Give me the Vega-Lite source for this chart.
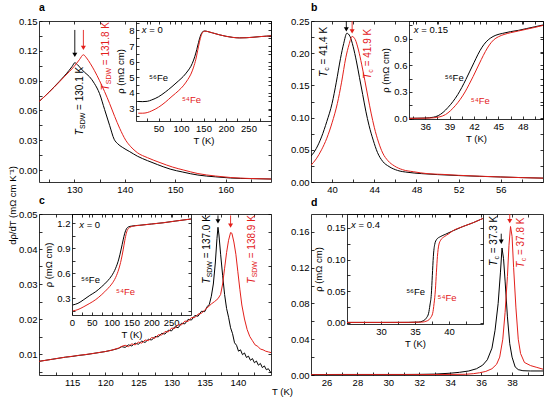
{
"$schema": "https://vega.github.io/schema/vega-lite/v6.json",
"background": "white",
"padding": {"left": 7, "top": 2, "right": 5, "bottom": 3},
"columns": 2,
"spacing": {"row": 32, "column": 40},
"bounds": "flush",
"config": {
  "font": "Liberation Sans",
  "view": {"stroke": null},
  "axis": {"grid": false, "domainColor": "black", "tickColor": "black", "labelColor": "black", "titleColor": "black", "labelFont": "Liberation Sans", "titleFont": "Liberation Sans", "labelFontSize": 9.5, "titleFontSize": 9.5, "titleFontWeight": "normal", "tickSize": -3, "labelPadding": 5, "domainWidth": 0.8, "tickWidth": 0.8, "labelFlush": false, "labelOverlap": false, "minExtent": 0, "titlePadding": 3},
  "text": {"font": "Liberation Sans"},
  "title": {"font": "Liberation Sans", "color": "black"}
},
"datasets": {
  "aMain": [
    {"T":123,"v":0.069,"iso":"56"},{"T":124,"v":0.0735,"iso":"56"},{"T":125,"v":0.0785,"iso":"56"},{"T":126,"v":0.0837,"iso":"56"},{"T":127,"v":0.089,"iso":"56"},{"T":128,"v":0.0945,"iso":"56"},{"T":129,"v":0.1005,"iso":"56"},{"T":129.6,"v":0.1045,"iso":"56"},{"T":130.1,"v":0.108,"iso":"56"},{"T":130.6,"v":0.1062,"iso":"56"},{"T":131.2,"v":0.1028,"iso":"56"},{"T":132,"v":0.0985,"iso":"56"},{"T":133,"v":0.094,"iso":"56"},{"T":134,"v":0.087,"iso":"56"},{"T":135,"v":0.077,"iso":"56"},{"T":136,"v":0.061,"iso":"56"},{"T":137,"v":0.045,"iso":"56"},{"T":137.9,"v":0.031,"iso":"56"},{"T":138.6,"v":0.0265,"iso":"56"},{"T":139.5,"v":0.023,"iso":"56"},{"T":141,"v":0.0185,"iso":"56"},{"T":142.5,"v":0.014,"iso":"56"},{"T":144.5,"v":0.0095,"iso":"56"},{"T":146.5,"v":0.0055,"iso":"56"},{"T":149,"v":0.001,"iso":"56"},{"T":151.5,"v":-0.002,"iso":"56"},{"T":154.5,"v":-0.005,"iso":"56"},{"T":158,"v":-0.0068,"iso":"56"},{"T":161,"v":-0.008,"iso":"56"},{"T":165,"v":-0.0086,"iso":"56"},{"T":169,"v":-0.009,"iso":"56"},
    {"T":123,"v":0.069,"iso":"54"},{"T":124,"v":0.0735,"iso":"54"},{"T":125,"v":0.0783,"iso":"54"},{"T":126,"v":0.0833,"iso":"54"},{"T":127,"v":0.0885,"iso":"54"},{"T":128,"v":0.0938,"iso":"54"},{"T":129,"v":0.099,"iso":"54"},{"T":130,"v":0.1045,"iso":"54"},{"T":131,"v":0.111,"iso":"54"},{"T":131.8,"v":0.116,"iso":"54"},{"T":132.4,"v":0.113,"iso":"54"},{"T":133.2,"v":0.107,"iso":"54"},{"T":134,"v":0.1,"iso":"54"},{"T":135,"v":0.09,"iso":"54"},{"T":136,"v":0.079,"iso":"54"},{"T":137,"v":0.067,"iso":"54"},{"T":138,"v":0.054,"iso":"54"},{"T":139,"v":0.042,"iso":"54"},{"T":140.2,"v":0.03,"iso":"54"},{"T":141.2,"v":0.0235,"iso":"54"},{"T":142.5,"v":0.0175,"iso":"54"},{"T":144.5,"v":0.0125,"iso":"54"},{"T":147,"v":0.0075,"iso":"54"},{"T":149.5,"v":0.003,"iso":"54"},{"T":151.7,"v":0,"iso":"54"},{"T":154.5,"v":-0.0035,"iso":"54"},{"T":158,"v":-0.006,"iso":"54"},{"T":161,"v":-0.0075,"iso":"54"},{"T":165,"v":-0.0085,"iso":"54"},{"T":169,"v":-0.009,"iso":"54"}
  ],
  "aIns": [
    {"T":5,"r":3.45,"iso":"56"},{"T":15,"r":3.44,"iso":"56"},{"T":25,"r":3.46,"iso":"56"},{"T":35,"r":3.55,"iso":"56"},{"T":50,"r":3.75,"iso":"56"},{"T":65,"r":4.05,"iso":"56"},{"T":80,"r":4.4,"iso":"56"},{"T":95,"r":4.78,"iso":"56"},{"T":105,"r":5.05,"iso":"56"},{"T":115,"r":5.4,"iso":"56"},{"T":122,"r":5.7,"iso":"56"},{"T":128,"r":6.1,"iso":"56"},{"T":133,"r":6.55,"iso":"56"},{"T":137,"r":7.0,"iso":"56"},{"T":141,"r":7.45,"iso":"56"},{"T":145,"r":7.78,"iso":"56"},{"T":149,"r":7.93,"iso":"56"},{"T":153,"r":7.96,"iso":"56"},{"T":160,"r":7.92,"iso":"56"},{"T":170,"r":7.84,"iso":"56"},{"T":185,"r":7.72,"iso":"56"},{"T":200,"r":7.62,"iso":"56"},{"T":215,"r":7.55,"iso":"56"},{"T":230,"r":7.52,"iso":"56"},{"T":245,"r":7.53,"iso":"56"},{"T":260,"r":7.56,"iso":"56"},{"T":275,"r":7.6,"iso":"56"},{"T":290,"r":7.63,"iso":"56"},{"T":300,"r":7.65,"iso":"56"},
    {"T":5,"r":2.7,"iso":"54"},{"T":15,"r":2.7,"iso":"54"},{"T":25,"r":2.74,"iso":"54"},{"T":35,"r":2.85,"iso":"54"},{"T":50,"r":3.08,"iso":"54"},{"T":65,"r":3.4,"iso":"54"},{"T":80,"r":3.78,"iso":"54"},{"T":95,"r":4.15,"iso":"54"},{"T":105,"r":4.45,"iso":"54"},{"T":115,"r":4.85,"iso":"54"},{"T":122,"r":5.2,"iso":"54"},{"T":128,"r":5.65,"iso":"54"},{"T":133,"r":6.15,"iso":"54"},{"T":137,"r":6.7,"iso":"54"},{"T":141,"r":7.25,"iso":"54"},{"T":145,"r":7.68,"iso":"54"},{"T":149,"r":7.9,"iso":"54"},{"T":153,"r":7.95,"iso":"54"},{"T":160,"r":7.92,"iso":"54"},{"T":170,"r":7.84,"iso":"54"},{"T":185,"r":7.72,"iso":"54"},{"T":200,"r":7.62,"iso":"54"},{"T":215,"r":7.55,"iso":"54"},{"T":230,"r":7.52,"iso":"54"},{"T":245,"r":7.53,"iso":"54"},{"T":260,"r":7.56,"iso":"54"},{"T":275,"r":7.6,"iso":"54"},{"T":290,"r":7.63,"iso":"54"},{"T":300,"r":7.65,"iso":"54"}
  ],
  "aArrow": [{"T":130.1,"y1":0.141,"y2":0.116,"iso":"56"},{"T":131.8,"y1":0.141,"y2":0.123,"iso":"54"}],
  "aText": [{"T":131.1,"v":0.035,"iso":"56","sub":"SDW","val":"= 130.1 K"},{"T":136.3,"v":0.08,"iso":"54","sub":"SDW","val":"= 131.8 K"}],
  "aLab": [{"T":29,"r":4.95,"iso":"56","txt":"⁵⁶Fe"},{"T":102,"r":3.54,"iso":"54","txt":"⁵⁴Fe"}],
  "aX": [{"T":13,"r":8.02,"txt":"= 0"}],
  "bMain": [
    {"T":38,"v":0.04,"iso":"56"},{"T":38.5,"v":0.052,"iso":"56"},{"T":39,"v":0.07,"iso":"56"},{"T":39.5,"v":0.094,"iso":"56"},{"T":40,"v":0.122,"iso":"56"},{"T":40.4,"v":0.155,"iso":"56"},{"T":40.8,"v":0.192,"iso":"56"},{"T":41.1,"v":0.215,"iso":"56"},{"T":41.4,"v":0.231,"iso":"56"},{"T":41.7,"v":0.226,"iso":"56"},{"T":42,"v":0.21,"iso":"56"},{"T":42.3,"v":0.188,"iso":"56"},{"T":42.6,"v":0.162,"iso":"56"},{"T":42.9,"v":0.136,"iso":"56"},{"T":43.2,"v":0.11,"iso":"56"},{"T":43.5,"v":0.088,"iso":"56"},{"T":43.9,"v":0.065,"iso":"56"},{"T":44.3,"v":0.046,"iso":"56"},{"T":44.8,"v":0.032,"iso":"56"},{"T":45.4,"v":0.024,"iso":"56"},{"T":46.2,"v":0.018,"iso":"56"},{"T":47.2,"v":0.015,"iso":"56"},{"T":48.5,"v":0.013,"iso":"56"},{"T":50,"v":0.0115,"iso":"56"},{"T":52,"v":0.01,"iso":"56"},{"T":54,"v":0.0088,"iso":"56"},{"T":56,"v":0.0078,"iso":"56"},{"T":58,"v":0.0068,"iso":"56"},{"T":60,"v":0.006,"iso":"56"},
    {"T":38,"v":0.026,"iso":"54"},{"T":38.5,"v":0.036,"iso":"54"},{"T":39,"v":0.05,"iso":"54"},{"T":39.5,"v":0.068,"iso":"54"},{"T":40,"v":0.092,"iso":"54"},{"T":40.5,"v":0.122,"iso":"54"},{"T":40.9,"v":0.155,"iso":"54"},{"T":41.3,"v":0.193,"iso":"54"},{"T":41.6,"v":0.213,"iso":"54"},{"T":41.9,"v":0.226,"iso":"54"},{"T":42.2,"v":0.221,"iso":"54"},{"T":42.5,"v":0.205,"iso":"54"},{"T":42.8,"v":0.183,"iso":"54"},{"T":43.1,"v":0.158,"iso":"54"},{"T":43.4,"v":0.132,"iso":"54"},{"T":43.7,"v":0.107,"iso":"54"},{"T":44,"v":0.085,"iso":"54"},{"T":44.4,"v":0.062,"iso":"54"},{"T":44.8,"v":0.045,"iso":"54"},{"T":45.3,"v":0.033,"iso":"54"},{"T":45.9,"v":0.025,"iso":"54"},{"T":46.7,"v":0.019,"iso":"54"},{"T":47.7,"v":0.016,"iso":"54"},{"T":49,"v":0.013,"iso":"54"},{"T":50.5,"v":0.0118,"iso":"54"},{"T":52,"v":0.0104,"iso":"54"},{"T":54,"v":0.009,"iso":"54"},{"T":56,"v":0.0078,"iso":"54"},{"T":58,"v":0.0068,"iso":"54"},{"T":60,"v":0.006,"iso":"54"}
  ],
  "bIns": [
    {"T":34,"r":0.003,"iso":"56"},{"T":35,"r":0.004,"iso":"56"},{"T":36,"r":0.006,"iso":"56"},{"T":37,"r":0.015,"iso":"56"},{"T":37.6,"r":0.033,"iso":"56"},{"T":38.2,"r":0.07,"iso":"56"},{"T":38.8,"r":0.125,"iso":"56"},{"T":39.4,"r":0.19,"iso":"56"},{"T":40,"r":0.27,"iso":"56"},{"T":40.5,"r":0.35,"iso":"56"},{"T":41,"r":0.44,"iso":"56"},{"T":41.5,"r":0.535,"iso":"56"},{"T":42,"r":0.63,"iso":"56"},{"T":42.5,"r":0.725,"iso":"56"},{"T":43,"r":0.805,"iso":"56"},{"T":43.5,"r":0.865,"iso":"56"},{"T":44,"r":0.905,"iso":"56"},{"T":44.7,"r":0.94,"iso":"56"},{"T":45.5,"r":0.96,"iso":"56"},{"T":46.5,"r":0.98,"iso":"56"},{"T":47.5,"r":0.995,"iso":"56"},{"T":48.5,"r":1.015,"iso":"56"},{"T":49.5,"r":1.035,"iso":"56"},{"T":50.5,"r":1.055,"iso":"56"},
    {"T":34,"r":0.002,"iso":"54"},{"T":35,"r":0.003,"iso":"54"},{"T":36,"r":0.004,"iso":"54"},{"T":37,"r":0.008,"iso":"54"},{"T":37.8,"r":0.02,"iso":"54"},{"T":38.5,"r":0.045,"iso":"54"},{"T":39.1,"r":0.088,"iso":"54"},{"T":39.7,"r":0.145,"iso":"54"},{"T":40.3,"r":0.215,"iso":"54"},{"T":40.9,"r":0.3,"iso":"54"},{"T":41.4,"r":0.385,"iso":"54"},{"T":41.9,"r":0.475,"iso":"54"},{"T":42.4,"r":0.57,"iso":"54"},{"T":42.9,"r":0.665,"iso":"54"},{"T":43.4,"r":0.755,"iso":"54"},{"T":43.9,"r":0.83,"iso":"54"},{"T":44.4,"r":0.885,"iso":"54"},{"T":45,"r":0.922,"iso":"54"},{"T":45.7,"r":0.948,"iso":"54"},{"T":46.5,"r":0.968,"iso":"54"},{"T":47.5,"r":0.988,"iso":"54"},{"T":48.5,"r":1.008,"iso":"54"},{"T":49.5,"r":1.028,"iso":"54"},{"T":50.5,"r":1.05,"iso":"54"}
  ],
  "bArrow": [{"T":41.35,"y1":0.25,"y2":0.237,"iso":"56"},{"T":41.9,"y1":0.25,"y2":0.234,"iso":"54"}],
  "bText": [{"T":39.2,"v":0.163,"iso":"56","sub":"c","val":"= 41.4 K"},{"T":43.45,"v":0.16,"iso":"54","sub":"c","val":"= 41.9 K"}],
  "bLab": [{"T":38.4,"r":0.46,"iso":"56","txt":"⁵⁶Fe"},{"T":41.6,"r":0.2,"iso":"54","txt":"⁵⁴Fe"}],
  "bX": [{"T":34.6,"r":1.0,"txt":"= 0.15"}],
  "cMain": [
    {"T":110,"v":0.0079,"iso":"56"},{"T":111,"v":0.0082,"iso":"56"},{"T":112,"v":0.0085,"iso":"56"},{"T":113,"v":0.0088,"iso":"56"},{"T":114,"v":0.0091,"iso":"56"},{"T":115,"v":0.0093,"iso":"56"},{"T":116,"v":0.0096,"iso":"56"},{"T":117,"v":0.0098,"iso":"56"},{"T":118,"v":0.0101,"iso":"56"},{"T":119,"v":0.0104,"iso":"56"},{"T":120,"v":0.0107,"iso":"56"},{"T":121,"v":0.0111,"iso":"56"},{"T":122,"v":0.0116,"iso":"56"},{"T":122.5,"v":0.0121,"iso":"56"},{"T":123,"v":0.0119,"iso":"56"},{"T":123.5,"v":0.0126,"iso":"56"},{"T":124,"v":0.0123,"iso":"56"},{"T":124.5,"v":0.0131,"iso":"56"},{"T":125,"v":0.0128,"iso":"56"},{"T":125.5,"v":0.0137,"iso":"56"},{"T":126,"v":0.0133,"iso":"56"},{"T":126.5,"v":0.0142,"iso":"56"},{"T":127,"v":0.014,"iso":"56"},{"T":127.5,"v":0.015,"iso":"56"},{"T":128,"v":0.0149,"iso":"56"},{"T":128.5,"v":0.0159,"iso":"56"},{"T":129,"v":0.0157,"iso":"56"},{"T":129.5,"v":0.0168,"iso":"56"},{"T":130,"v":0.0166,"iso":"56"},{"T":130.5,"v":0.0178,"iso":"56"},{"T":131,"v":0.0175,"iso":"56"},{"T":131.5,"v":0.0188,"iso":"56"},{"T":132,"v":0.0186,"iso":"56"},{"T":132.5,"v":0.0199,"iso":"56"},{"T":133,"v":0.0197,"iso":"56"},{"T":133.5,"v":0.021,"iso":"56"},{"T":134,"v":0.0208,"iso":"56"},{"T":134.5,"v":0.0222,"iso":"56"},{"T":135,"v":0.0221,"iso":"56"},{"T":135.4,"v":0.0236,"iso":"56"},{"T":135.7,"v":0.0242,"iso":"56"},{"T":136,"v":0.0265,"iso":"56"},{"T":136.3,"v":0.03,"iso":"56"},{"T":136.6,"v":0.036,"iso":"56"},{"T":136.85,"v":0.043,"iso":"56"},{"T":137,"v":0.0462,"iso":"56"},{"T":137.15,"v":0.044,"iso":"56"},{"T":137.4,"v":0.0385,"iso":"56"},{"T":137.7,"v":0.0325,"iso":"56"},{"T":138,"v":0.027,"iso":"56"},{"T":138.3,"v":0.023,"iso":"56"},{"T":138.6,"v":0.0205,"iso":"56"},{"T":138.9,"v":0.0175,"iso":"56"},{"T":139.2,"v":0.0158,"iso":"56"},{"T":139.5,"v":0.0132,"iso":"56"},{"T":139.8,"v":0.0125,"iso":"56"},{"T":140.1,"v":0.0108,"iso":"56"},{"T":140.4,"v":0.0112,"iso":"56"},{"T":140.7,"v":0.0098,"iso":"56"},{"T":141,"v":0.0103,"iso":"56"},{"T":141.3,"v":0.009,"iso":"56"},{"T":141.6,"v":0.0094,"iso":"56"},{"T":141.9,"v":0.0082,"iso":"56"},{"T":142.2,"v":0.0087,"iso":"56"},{"T":142.5,"v":0.0075,"iso":"56"},{"T":142.8,"v":0.008,"iso":"56"},{"T":143.1,"v":0.0068,"iso":"56"},{"T":143.4,"v":0.0073,"iso":"56"},{"T":143.7,"v":0.0061,"iso":"56"},{"T":144,"v":0.0066,"iso":"56"},{"T":144.3,"v":0.0055,"iso":"56"},{"T":144.6,"v":0.0058,"iso":"56"},{"T":145,"v":0.0046,"iso":"56"},
    {"T":110,"v":0.0079,"iso":"54"},{"T":112,"v":0.0085,"iso":"54"},{"T":114,"v":0.0091,"iso":"54"},{"T":116,"v":0.0096,"iso":"54"},{"T":118,"v":0.0101,"iso":"54"},{"T":120,"v":0.0107,"iso":"54"},{"T":121,"v":0.0111,"iso":"54"},{"T":122,"v":0.0117,"iso":"54"},{"T":122.5,"v":0.0122,"iso":"54"},{"T":123,"v":0.0125,"iso":"54"},{"T":123.5,"v":0.0121,"iso":"54"},{"T":124,"v":0.0129,"iso":"54"},{"T":124.5,"v":0.0126,"iso":"54"},{"T":125,"v":0.0134,"iso":"54"},{"T":125.5,"v":0.0131,"iso":"54"},{"T":126,"v":0.014,"iso":"54"},{"T":126.5,"v":0.0138,"iso":"54"},{"T":127,"v":0.0147,"iso":"54"},{"T":127.5,"v":0.0145,"iso":"54"},{"T":128,"v":0.0155,"iso":"54"},{"T":128.5,"v":0.0154,"iso":"54"},{"T":129,"v":0.0164,"iso":"54"},{"T":129.5,"v":0.0163,"iso":"54"},{"T":130,"v":0.0174,"iso":"54"},{"T":130.5,"v":0.0173,"iso":"54"},{"T":131,"v":0.0184,"iso":"54"},{"T":131.5,"v":0.0183,"iso":"54"},{"T":132,"v":0.0194,"iso":"54"},{"T":132.5,"v":0.0193,"iso":"54"},{"T":133,"v":0.0204,"iso":"54"},{"T":133.5,"v":0.0204,"iso":"54"},{"T":134,"v":0.0214,"iso":"54"},{"T":134.5,"v":0.0216,"iso":"54"},{"T":135,"v":0.0226,"iso":"54"},{"T":135.5,"v":0.0234,"iso":"54"},{"T":136,"v":0.0243,"iso":"54"},{"T":136.5,"v":0.025,"iso":"54"},{"T":137,"v":0.0258,"iso":"54"},{"T":137.4,"v":0.027,"iso":"54"},{"T":137.7,"v":0.03,"iso":"54"},{"T":138,"v":0.0345,"iso":"54"},{"T":138.3,"v":0.039,"iso":"54"},{"T":138.6,"v":0.0425,"iso":"54"},{"T":138.9,"v":0.0447,"iso":"54"},{"T":139.1,"v":0.0445,"iso":"54"},{"T":139.4,"v":0.042,"iso":"54"},{"T":139.7,"v":0.0385,"iso":"54"},{"T":140,"v":0.0335,"iso":"54"},{"T":140.3,"v":0.0285,"iso":"54"},{"T":140.6,"v":0.024,"iso":"54"},{"T":141,"v":0.02,"iso":"54"},{"T":141.4,"v":0.017,"iso":"54"},{"T":141.8,"v":0.015,"iso":"54"},{"T":142.2,"v":0.0138,"iso":"54"},{"T":142.6,"v":0.0126,"iso":"54"},{"T":143,"v":0.0122,"iso":"54"},{"T":143.4,"v":0.0114,"iso":"54"},{"T":143.8,"v":0.0112,"iso":"54"},{"T":144.2,"v":0.0108,"iso":"54"},{"T":144.6,"v":0.0106,"iso":"54"},{"T":145,"v":0.0104,"iso":"54"}
  ],
  "cIns": [
    {"T":2,"r":0.22,"iso":"56"},{"T":15,"r":0.24,"iso":"56"},{"T":30,"r":0.285,"iso":"56"},{"T":45,"r":0.335,"iso":"56"},{"T":60,"r":0.38,"iso":"56"},{"T":75,"r":0.44,"iso":"56"},{"T":90,"r":0.51,"iso":"56"},{"T":100,"r":0.57,"iso":"56"},{"T":110,"r":0.66,"iso":"56"},{"T":118,"r":0.77,"iso":"56"},{"T":124,"r":0.89,"iso":"56"},{"T":129,"r":1.0,"iso":"56"},{"T":133,"r":1.08,"iso":"56"},{"T":137,"r":1.13,"iso":"56"},{"T":142,"r":1.155,"iso":"56"},{"T":150,"r":1.165,"iso":"56"},{"T":170,"r":1.175,"iso":"56"},{"T":200,"r":1.19,"iso":"56"},{"T":230,"r":1.205,"iso":"56"},{"T":260,"r":1.225,"iso":"56"},{"T":300,"r":1.25,"iso":"56"},
    {"T":2,"r":0.148,"iso":"54"},{"T":15,"r":0.165,"iso":"54"},{"T":30,"r":0.2,"iso":"54"},{"T":45,"r":0.24,"iso":"54"},{"T":60,"r":0.285,"iso":"54"},{"T":75,"r":0.345,"iso":"54"},{"T":90,"r":0.415,"iso":"54"},{"T":100,"r":0.47,"iso":"54"},{"T":110,"r":0.55,"iso":"54"},{"T":118,"r":0.65,"iso":"54"},{"T":124,"r":0.76,"iso":"54"},{"T":129,"r":0.88,"iso":"54"},{"T":133,"r":0.99,"iso":"54"},{"T":137,"r":1.08,"iso":"54"},{"T":141,"r":1.13,"iso":"54"},{"T":146,"r":1.15,"iso":"54"},{"T":152,"r":1.162,"iso":"54"},{"T":170,"r":1.174,"iso":"54"},{"T":200,"r":1.19,"iso":"54"},{"T":230,"r":1.205,"iso":"54"},{"T":260,"r":1.225,"iso":"54"},{"T":300,"r":1.25,"iso":"54"}
  ],
  "cArrow": [{"T":137.0,"y1":0.0496,"y2":0.0479,"iso":"56"},{"T":138.9,"y1":0.0496,"y2":0.0467,"iso":"54"}],
  "cText": [{"T":135.4,"v":0.0301,"iso":"56","sub":"SDW","val":"= 137.0 K"},{"T":142.2,"v":0.0301,"iso":"54","sub":"SDW","val":"= 138.9 K"}],
  "cLab": [{"T":22.7,"r":0.52,"iso":"56","txt":"⁵⁶Fe"},{"T":111,"r":0.376,"iso":"54","txt":"⁵⁴Fe"}],
  "cX": [{"T":18,"r":1.18,"txt":"= 0"}],
  "dMain": [
    {"T":25,"v":0.0005,"iso":"56"},{"T":27,"v":0.0006,"iso":"56"},{"T":29,"v":0.0006,"iso":"56"},{"T":31,"v":0.0006,"iso":"56"},{"T":32,"v":0.0007,"iso":"56"},{"T":33,"v":0.001,"iso":"56"},{"T":34,"v":0.002,"iso":"56"},{"T":34.6,"v":0.003,"iso":"56"},{"T":35.2,"v":0.0045,"iso":"56"},{"T":35.7,"v":0.007,"iso":"56"},{"T":36.1,"v":0.011,"iso":"56"},{"T":36.4,"v":0.017,"iso":"56"},{"T":36.7,"v":0.03,"iso":"56"},{"T":36.9,"v":0.05,"iso":"56"},{"T":37.1,"v":0.08,"iso":"56"},{"T":37.25,"v":0.115,"iso":"56"},{"T":37.35,"v":0.142,"iso":"56"},{"T":37.45,"v":0.13,"iso":"56"},{"T":37.55,"v":0.105,"iso":"56"},{"T":37.7,"v":0.065,"iso":"56"},{"T":37.85,"v":0.035,"iso":"56"},{"T":38,"v":0.02,"iso":"56"},{"T":38.2,"v":0.009,"iso":"56"},{"T":38.4,"v":0.006,"iso":"56"},{"T":38.7,"v":0.0048,"iso":"56"},{"T":39.2,"v":0.0045,"iso":"56"},{"T":40,"v":0.0045,"iso":"56"},
    {"T":25,"v":0.0003,"iso":"54"},{"T":28,"v":0.0004,"iso":"54"},{"T":31,"v":0.0004,"iso":"54"},{"T":33,"v":0.0005,"iso":"54"},{"T":35,"v":0.0008,"iso":"54"},{"T":35.5,"v":0.0015,"iso":"54"},{"T":35.9,"v":0.0025,"iso":"54"},{"T":36.3,"v":0.004,"iso":"54"},{"T":36.7,"v":0.007,"iso":"54"},{"T":37,"v":0.012,"iso":"54"},{"T":37.2,"v":0.02,"iso":"54"},{"T":37.4,"v":0.04,"iso":"54"},{"T":37.55,"v":0.07,"iso":"54"},{"T":37.7,"v":0.11,"iso":"54"},{"T":37.8,"v":0.145,"iso":"54"},{"T":37.9,"v":0.166,"iso":"54"},{"T":38,"v":0.155,"iso":"54"},{"T":38.1,"v":0.12,"iso":"54"},{"T":38.25,"v":0.075,"iso":"54"},{"T":38.4,"v":0.04,"iso":"54"},{"T":38.55,"v":0.024,"iso":"54"},{"T":38.8,"v":0.014,"iso":"54"},{"T":39.2,"v":0.0105,"iso":"54"},{"T":39.6,"v":0.0085,"iso":"54"},{"T":40,"v":0.0065,"iso":"54"}
  ],
  "dIns": [
    {"T":25,"r":0.0005,"iso":"56"},{"T":30,"r":0.0005,"iso":"56"},{"T":34,"r":0.0006,"iso":"56"},{"T":35.5,"r":0.001,"iso":"56"},{"T":36.2,"r":0.003,"iso":"56"},{"T":36.7,"r":0.008,"iso":"56"},{"T":37,"r":0.015,"iso":"56"},{"T":37.2,"r":0.028,"iso":"56"},{"T":37.4,"r":0.045,"iso":"56"},{"T":37.55,"r":0.075,"iso":"56"},{"T":37.7,"r":0.105,"iso":"56"},{"T":37.9,"r":0.124,"iso":"56"},{"T":38.2,"r":0.132,"iso":"56"},{"T":38.7,"r":0.136,"iso":"56"},{"T":39.5,"r":0.14,"iso":"56"},{"T":40.5,"r":0.145,"iso":"56"},{"T":42,"r":0.152,"iso":"56"},{"T":43.5,"r":0.158,"iso":"56"},{"T":45,"r":0.165,"iso":"56"},
    {"T":25,"r":0.0005,"iso":"54"},{"T":30,"r":0.0005,"iso":"54"},{"T":34,"r":0.0006,"iso":"54"},{"T":36,"r":0.001,"iso":"54"},{"T":36.8,"r":0.003,"iso":"54"},{"T":37.3,"r":0.008,"iso":"54"},{"T":37.6,"r":0.015,"iso":"54"},{"T":37.8,"r":0.03,"iso":"54"},{"T":38,"r":0.052,"iso":"54"},{"T":38.15,"r":0.08,"iso":"54"},{"T":38.3,"r":0.105,"iso":"54"},{"T":38.5,"r":0.123,"iso":"54"},{"T":38.8,"r":0.131,"iso":"54"},{"T":39.3,"r":0.136,"iso":"54"},{"T":40,"r":0.141,"iso":"54"},{"T":40.5,"r":0.145,"iso":"54"},{"T":42,"r":0.152,"iso":"54"},{"T":43.5,"r":0.158,"iso":"54"},{"T":45,"r":0.165,"iso":"54"}
  ],
  "dArrow": [{"T":37.3,"y1":0.158,"y2":0.149,"iso":"56"},{"T":37.85,"y1":0.18,"y2":0.172,"iso":"54"}],
  "dText": [{"T":36.85,"v":0.122,"iso":"56","sub":"c","val":"= 37.3 K"},{"T":38.6,"v":0.12,"iso":"54","sub":"c","val":"= 37.8 K"}],
  "dLab": [{"T":33.7,"r":0.049,"iso":"56","txt":"⁵⁶Fe"},{"T":38.3,"r":0.0385,"iso":"54","txt":"⁵⁴Fe"}],
  "dX": [{"T":25.6,"r":0.1546,"txt":"= 0.4"}]
},
"concat": [
 {
  "width": 232, "height": 161,
  "title": {"text": "a", "anchor": "start", "frame": "group", "fontSize": 10.5, "fontWeight": "bold", "offset": 3},
  "layer": [
   {
    "encoding": {
      "x": {"field": "T", "type": "quantitative", "scale": {"domain": [123, 169], "nice": false, "zero": false}, "axis": null},
      "y": {"field": "v", "type": "quantitative", "scale": {"domain": [-0.012, 0.15], "nice": false, "zero": false}, "axis": null},
      "color": {"field": "iso", "type": "nominal", "scale": {"domain": ["56", "54"], "range": ["#000000", "#e3201b"]}, "legend": null}
    },
    "layer": [
      {"data": {"name": "aMain"}, "mark": {"type": "line", "strokeWidth": 1, "clip": true, "interpolate": "monotone"},
       "encoding": {
        "x": {"field": "T", "type": "quantitative", "scale": {"domain": [123, 169], "nice": false, "zero": false}, "axis": {"orient": "bottom", "values": [125,130,135,140,145,150,155,160,165], "labelExpr": "datum.value % 10 == 0 ? datum.label : ''", "format": "d", "title": null}},
        "y": {"field": "v", "type": "quantitative", "scale": {"domain": [-0.012, 0.15], "nice": false, "zero": false}, "axis": {"orient": "left", "values": [0,0.015,0.03,0.045,0.06,0.075,0.09,0.105,0.12,0.135,0.15], "labelExpr": "round(datum.value*1000) % 30 == 0 ? datum.label : ''", "format": ".2f", "title": "dρ/dT (mΩ cm K⁻¹)", "titleX": -27, "titleY": 184, "titleAngle": 270, "titleAlign": "center", "titleBaseline": "middle"}}
       }},
      {"data": {"name": "aArrow"}, "mark": {"type": "point", "opacity": 0},
       "encoding": {
        "x": {"field": "T", "type": "quantitative", "scale": {"domain": [123, 169], "nice": false, "zero": false}, "axis": {"orient": "top", "values": [125,130,135,140,145,150,155,160,165], "labels": false, "title": null}},
        "y": {"field": "y1", "type": "quantitative", "scale": {"domain": [-0.012, 0.15], "nice": false, "zero": false}, "axis": {"orient": "right", "values": [0,0.015,0.03,0.045,0.06,0.075,0.09,0.105,0.12,0.135,0.15], "labels": false, "title": null}}
       }},
      {"data": {"name": "aArrow"}, "mark": {"type": "rule", "strokeWidth": 0.9},
       "encoding": {"y": {"field": "y1", "type": "quantitative", "scale": {"domain": [-0.012, 0.15], "nice": false, "zero": false}, "axis": null}, "y2": {"field": "y2"}}},
      {"data": {"name": "aArrow"}, "mark": {"type": "point", "shape": "triangle-down", "filled": true, "size": 25, "opacity": 1},
       "encoding": {"y": {"field": "y2", "type": "quantitative", "scale": {"domain": [-0.012, 0.15], "nice": false, "zero": false}, "axis": null}}},
      {"data": {"name": "aText"}, "mark": {"type": "text", "angle": 270, "align": "left", "baseline": "middle", "fontSize": 10, "fontStyle": "italic", "text": "T"}},
      {"data": {"name": "aText"}, "mark": {"type": "text", "angle": 270, "align": "left", "baseline": "middle", "fontSize": 7, "dx": 6.3, "dy": 3}, "encoding": {"text": {"field": "sub"}}},
      {"data": {"name": "aText"}, "mark": {"type": "text", "angle": 270, "align": "left", "baseline": "middle", "fontSize": 10, "dx": 25.4}, "encoding": {"text": {"field": "val"}}}
    ],
    "resolve": {"axis": {"x": "independent", "y": "independent"}}
   },
   {
    "encoding": {
      "x": {"field": "T", "type": "quantitative", "scale": {"domain": [0, 300], "range": [97, 232], "nice": false, "zero": false}, "axis": null},
      "y": {"field": "r", "type": "quantitative", "scale": {"domain": [2.2, 8.6], "range": [100, 0], "nice": false, "zero": false}, "axis": null}
    },
    "layer": [
      {"data": {"name": "aIns"}, "mark": {"type": "line", "strokeWidth": 1, "interpolate": "monotone"},
       "encoding": {
        "x": {"field": "T", "type": "quantitative", "scale": {"domain": [0, 300], "range": [97, 232], "nice": false, "zero": false}, "axis": {"orient": "bottom", "offset": -61, "values": [25,50,75,100,125,150,175,200,225,250,275], "labelExpr": "datum.value % 50 == 0 ? datum.label : ''", "format": "d", "title": "T (K)"}},
        "y": {"field": "r", "type": "quantitative", "scale": {"domain": [2.2, 8.6], "range": [100, 0], "nice": false, "zero": false}, "axis": {"orient": "left", "offset": -97, "values": [2.5,3,3.5,4,4.5,5,5.5,6,6.5,7,7.5,8,8.5], "labelExpr": "round(datum.value*10) % 10 == 0 ? datum.label : ''", "format": ".0f", "title": "ρ (mΩ cm)"}},
        "color": {"field": "iso", "type": "nominal", "scale": {"domain": ["56", "54"], "range": ["#000000", "#e3201b"]}, "legend": null}
       }},
      {"data": {"name": "aLab"}, "mark": {"type": "text", "align": "left", "baseline": "middle", "fontSize": 9.5},
       "encoding": {
        "x": {"field": "T", "type": "quantitative", "scale": {"domain": [0, 300], "range": [97, 232], "nice": false, "zero": false}, "axis": {"orient": "top", "values": [25,50,75,100,125,150,175,200,225,250,275], "labels": false, "title": null}},
        "y": {"field": "r", "type": "quantitative", "scale": {"domain": [2.2, 8.6], "range": [100, 0], "nice": false, "zero": false}, "axis": {"orient": "right", "offset": 0, "values": [2.5,3,3.5,4,4.5,5,5.5,6,6.5,7,7.5,8,8.5], "labels": false, "title": null}},
        "text": {"field": "txt"},
        "color": {"field": "iso", "type": "nominal", "scale": {"domain": ["56", "54"], "range": ["#000000", "#e3201b"]}, "legend": null}
       }},
      {"data": {"name": "aX"}, "mark": {"type": "text", "align": "left", "baseline": "middle", "fontSize": 9.5, "fontStyle": "italic", "text": "x", "color": "black"}},
      {"data": {"name": "aX"}, "mark": {"type": "text", "align": "left", "baseline": "middle", "fontSize": 9.5, "dx": 7.5, "color": "black"}, "encoding": {"text": {"field": "txt"}}}
    ],
    "resolve": {"axis": {"x": "independent", "y": "independent"}}
   }
  ],
  "resolve": {"scale": {"x": "independent", "y": "independent"}, "axis": {"x": "independent", "y": "independent"}}
 },
 {
  "width": 232, "height": 161,
  "title": {"text": "b", "anchor": "start", "frame": "group", "fontSize": 10.5, "fontWeight": "bold", "offset": 3},
  "layer": [
   {
    "encoding": {
      "x": {"field": "T", "type": "quantitative", "scale": {"domain": [38, 60], "nice": false, "zero": false}, "axis": null},
      "y": {"field": "v", "type": "quantitative", "scale": {"domain": [0, 0.25], "nice": false, "zero": false}, "axis": null},
      "color": {"field": "iso", "type": "nominal", "scale": {"domain": ["56", "54"], "range": ["#000000", "#e3201b"]}, "legend": null}
    },
    "layer": [
      {"data": {"name": "bMain"}, "mark": {"type": "line", "strokeWidth": 1, "clip": true, "interpolate": "monotone"},
       "encoding": {
        "x": {"field": "T", "type": "quantitative", "scale": {"domain": [38, 60], "nice": false, "zero": false}, "axis": {"orient": "bottom", "values": [40,42,44,46,48,50,52,54,56,58], "labelExpr": "datum.value % 4 == 0 ? datum.label : ''", "format": "d", "title": null}},
        "y": {"field": "v", "type": "quantitative", "scale": {"domain": [0, 0.25], "nice": false, "zero": false}, "axis": {"orient": "left", "values": [0,0.025,0.05,0.075,0.1,0.125,0.15,0.175,0.2,0.225,0.25], "labelExpr": "round(datum.value*1000) % 50 == 0 ? datum.label : ''", "format": ".2f", "title": null}}
       }},
      {"data": {"name": "bArrow"}, "mark": {"type": "point", "opacity": 0},
       "encoding": {
        "x": {"field": "T", "type": "quantitative", "scale": {"domain": [38, 60], "nice": false, "zero": false}, "axis": {"orient": "top", "values": [40,42,44,46,48,50,52,54,56,58], "labels": false, "title": null}},
        "y": {"field": "y1", "type": "quantitative", "scale": {"domain": [0, 0.25], "nice": false, "zero": false}, "axis": {"orient": "right", "values": [0,0.025,0.05,0.075,0.1,0.125,0.15,0.175,0.2,0.225,0.25], "labels": false, "title": null}}
       }},
      {"data": {"name": "bArrow"}, "mark": {"type": "rule", "strokeWidth": 0.9},
       "encoding": {"y": {"field": "y1", "type": "quantitative", "scale": {"domain": [0, 0.25], "nice": false, "zero": false}, "axis": null}, "y2": {"field": "y2"}}},
      {"data": {"name": "bArrow"}, "mark": {"type": "point", "shape": "triangle-down", "filled": true, "size": 25, "opacity": 1},
       "encoding": {"y": {"field": "y2", "type": "quantitative", "scale": {"domain": [0, 0.25], "nice": false, "zero": false}, "axis": null}}},
      {"data": {"name": "bText"}, "mark": {"type": "text", "angle": 270, "align": "left", "baseline": "middle", "fontSize": 10, "fontStyle": "italic", "text": "T"}},
      {"data": {"name": "bText"}, "mark": {"type": "text", "angle": 270, "align": "left", "baseline": "middle", "fontSize": 7, "dx": 6.3, "dy": 3}, "encoding": {"text": {"field": "sub"}}},
      {"data": {"name": "bText"}, "mark": {"type": "text", "angle": 270, "align": "left", "baseline": "middle", "fontSize": 10, "dx": 12.6}, "encoding": {"text": {"field": "val"}}}
    ],
    "resolve": {"axis": {"x": "independent", "y": "independent"}}
   },
   {
    "encoding": {
      "x": {"field": "T", "type": "quantitative", "scale": {"domain": [34, 50.5], "range": [98, 232], "nice": false, "zero": false}, "axis": null},
      "y": {"field": "r", "type": "quantitative", "scale": {"domain": [-0.005, 1.1], "range": [98, 0], "nice": false, "zero": false}, "axis": null}
    },
    "layer": [
      {"data": {"name": "bIns"}, "mark": {"type": "line", "strokeWidth": 1, "interpolate": "monotone"},
       "encoding": {
        "x": {"field": "T", "type": "quantitative", "scale": {"domain": [34, 50.5], "range": [98, 232], "nice": false, "zero": false}, "axis": {"orient": "bottom", "offset": -63, "values": [34.5,36,37.5,39,40.5,42,43.5,45,46.5,48,49.5], "labelExpr": "datum.value % 3 == 0 ? datum.label : ''", "format": "d", "title": "T (K)"}},
        "y": {"field": "r", "type": "quantitative", "scale": {"domain": [-0.005, 1.1], "range": [98, 0], "nice": false, "zero": false}, "axis": {"orient": "left", "offset": -98, "values": [0,0.15,0.3,0.45,0.6,0.75,0.9,1.05], "labelExpr": "round(datum.value*100) % 30 == 0 ? datum.label : ''", "format": ".1f", "title": "ρ (mΩ cm)"}},
        "color": {"field": "iso", "type": "nominal", "scale": {"domain": ["56", "54"], "range": ["#000000", "#e3201b"]}, "legend": null}
       }},
      {"data": {"name": "bLab"}, "mark": {"type": "text", "align": "left", "baseline": "middle", "fontSize": 9.5},
       "encoding": {
        "x": {"field": "T", "type": "quantitative", "scale": {"domain": [34, 50.5], "range": [98, 232], "nice": false, "zero": false}, "axis": {"orient": "top", "values": [34.5,36,37.5,39,40.5,42,43.5,45,46.5,48,49.5], "labels": false, "title": null}},
        "y": {"field": "r", "type": "quantitative", "scale": {"domain": [-0.005, 1.1], "range": [98, 0], "nice": false, "zero": false}, "axis": {"orient": "right", "offset": 0, "values": [0,0.15,0.3,0.45,0.6,0.75,0.9,1.05], "labels": false, "title": null}},
        "text": {"field": "txt"},
        "color": {"field": "iso", "type": "nominal", "scale": {"domain": ["56", "54"], "range": ["#000000", "#e3201b"]}, "legend": null}
       }},
      {"data": {"name": "bX"}, "mark": {"type": "text", "align": "left", "baseline": "middle", "fontSize": 9.5, "fontStyle": "italic", "text": "x", "color": "black"}},
      {"data": {"name": "bX"}, "mark": {"type": "text", "align": "left", "baseline": "middle", "fontSize": 9.5, "dx": 7.5, "color": "black"}, "encoding": {"text": {"field": "txt"}}}
    ],
    "resolve": {"axis": {"x": "independent", "y": "independent"}}
   }
  ],
  "resolve": {"scale": {"x": "independent", "y": "independent"}, "axis": {"x": "independent", "y": "independent"}}
 },
 {
  "width": 232, "height": 161,
  "title": {"text": "c", "anchor": "start", "frame": "group", "fontSize": 10.5, "fontWeight": "bold", "offset": 3},
  "layer": [
   {
    "encoding": {
      "x": {"field": "T", "type": "quantitative", "scale": {"domain": [110, 145], "nice": false, "zero": false}, "axis": null},
      "y": {"field": "v", "type": "quantitative", "scale": {"domain": [0.004, 0.05], "nice": false, "zero": false}, "axis": null},
      "color": {"field": "iso", "type": "nominal", "scale": {"domain": ["56", "54"], "range": ["#000000", "#e3201b"]}, "legend": null}
    },
    "layer": [
      {"data": {"name": "cMain"}, "mark": {"type": "line", "strokeWidth": 1, "clip": true},
       "encoding": {
        "x": {"field": "T", "type": "quantitative", "scale": {"domain": [110, 145], "nice": false, "zero": false}, "axis": {"orient": "bottom", "values": [112.5,115,117.5,120,122.5,125,127.5,130,132.5,135,137.5,140,142.5], "labelExpr": "datum.value % 5 == 0 ? datum.label : ''", "format": "d", "title": "T (K)", "titleX": 243, "titleY": 16, "titleAlign": "center", "titleBaseline": "middle", "titleAngle": 0}},
        "y": {"field": "v", "type": "quantitative", "scale": {"domain": [0.004, 0.05], "nice": false, "zero": false}, "axis": {"orient": "left", "values": [0.005,0.01,0.015,0.02,0.025,0.03,0.035,0.04,0.045,0.05], "labelExpr": "round(datum.value*1000) % 10 == 0 ? datum.label : ''", "format": ".2f", "title": null}}
       }},
      {"data": {"name": "cArrow"}, "mark": {"type": "point", "opacity": 0},
       "encoding": {
        "x": {"field": "T", "type": "quantitative", "scale": {"domain": [110, 145], "nice": false, "zero": false}, "axis": {"orient": "top", "values": [112.5,115,117.5,120,122.5,125,127.5,130,132.5,135,137.5,140,142.5], "labels": false, "title": null}},
        "y": {"field": "y1", "type": "quantitative", "scale": {"domain": [0.004, 0.05], "nice": false, "zero": false}, "axis": {"orient": "right", "values": [0.005,0.01,0.015,0.02,0.025,0.03,0.035,0.04,0.045,0.05], "labels": false, "title": null}}
       }},
      {"data": {"name": "cArrow"}, "mark": {"type": "rule", "strokeWidth": 0.9},
       "encoding": {"y": {"field": "y1", "type": "quantitative", "scale": {"domain": [0.004, 0.05], "nice": false, "zero": false}, "axis": null}, "y2": {"field": "y2"}}},
      {"data": {"name": "cArrow"}, "mark": {"type": "point", "shape": "triangle-down", "filled": true, "size": 25, "opacity": 1},
       "encoding": {"y": {"field": "y2", "type": "quantitative", "scale": {"domain": [0.004, 0.05], "nice": false, "zero": false}, "axis": null}}},
      {"data": {"name": "cText"}, "mark": {"type": "text", "angle": 270, "align": "left", "baseline": "middle", "fontSize": 10, "fontStyle": "italic", "text": "T"}},
      {"data": {"name": "cText"}, "mark": {"type": "text", "angle": 270, "align": "left", "baseline": "middle", "fontSize": 7, "dx": 6.3, "dy": 3}, "encoding": {"text": {"field": "sub"}}},
      {"data": {"name": "cText"}, "mark": {"type": "text", "angle": 270, "align": "left", "baseline": "middle", "fontSize": 10, "dx": 25.4}, "encoding": {"text": {"field": "val"}}}
    ],
    "resolve": {"axis": {"x": "independent", "y": "independent"}}
   },
   {
    "encoding": {
      "x": {"field": "T", "type": "quantitative", "scale": {"domain": [0, 300], "range": [33, 152], "nice": false, "zero": false}, "axis": null},
      "y": {"field": "r", "type": "quantitative", "scale": {"domain": [0.1, 1.31], "range": [101, 0], "nice": false, "zero": false}, "axis": null}
    },
    "layer": [
      {"data": {"name": "cIns"}, "mark": {"type": "line", "strokeWidth": 1, "interpolate": "monotone"},
       "encoding": {
        "x": {"field": "T", "type": "quantitative", "scale": {"domain": [0, 300], "range": [33, 152], "nice": false, "zero": false}, "axis": {"orient": "bottom", "offset": -60, "values": [0,25,50,75,100,125,150,175,200,225,250,275], "labelExpr": "datum.value % 50 == 0 ? datum.label : ''", "format": "d", "title": "T (K)"}},
        "y": {"field": "r", "type": "quantitative", "scale": {"domain": [0.1, 1.31], "range": [101, 0], "nice": false, "zero": false}, "axis": {"orient": "left", "offset": -33, "values": [0.15,0.3,0.45,0.6,0.75,0.9,1.05,1.2], "labelExpr": "round(datum.value*100) % 30 == 0 ? datum.label : ''", "format": ".1f", "title": "ρ (mΩ cm)"}},
        "color": {"field": "iso", "type": "nominal", "scale": {"domain": ["56", "54"], "range": ["#000000", "#e3201b"]}, "legend": null}
       }},
      {"data": {"name": "cLab"}, "mark": {"type": "text", "align": "left", "baseline": "middle", "fontSize": 9.5},
       "encoding": {
        "x": {"field": "T", "type": "quantitative", "scale": {"domain": [0, 300], "range": [33, 152], "nice": false, "zero": false}, "axis": {"orient": "top", "values": [0,25,50,75,100,125,150,175,200,225,250,275], "labels": false, "title": null}},
        "y": {"field": "r", "type": "quantitative", "scale": {"domain": [0.1, 1.31], "range": [101, 0], "nice": false, "zero": false}, "axis": {"orient": "right", "offset": -80, "values": [0.15,0.3,0.45,0.6,0.75,0.9,1.05,1.2], "labels": false, "title": null}},
        "text": {"field": "txt"},
        "color": {"field": "iso", "type": "nominal", "scale": {"domain": ["56", "54"], "range": ["#000000", "#e3201b"]}, "legend": null}
       }},
      {"data": {"name": "cX"}, "mark": {"type": "text", "align": "left", "baseline": "middle", "fontSize": 9.5, "fontStyle": "italic", "text": "x", "color": "black"}},
      {"data": {"name": "cX"}, "mark": {"type": "text", "align": "left", "baseline": "middle", "fontSize": 9.5, "dx": 7.5, "color": "black"}, "encoding": {"text": {"field": "txt"}}}
    ],
    "resolve": {"axis": {"x": "independent", "y": "independent"}}
   }
  ],
  "resolve": {"scale": {"x": "independent", "y": "independent"}, "axis": {"x": "independent", "y": "independent"}}
 },
 {
  "width": 232, "height": 161,
  "title": {"text": "d", "anchor": "start", "frame": "group", "fontSize": 10.5, "fontWeight": "bold", "offset": 3},
  "layer": [
   {
    "encoding": {
      "x": {"field": "T", "type": "quantitative", "scale": {"domain": [25, 40], "nice": false, "zero": false}, "axis": null},
      "y": {"field": "v", "type": "quantitative", "scale": {"domain": [0, 0.18], "nice": false, "zero": false}, "axis": null},
      "color": {"field": "iso", "type": "nominal", "scale": {"domain": ["56", "54"], "range": ["#000000", "#e3201b"]}, "legend": null}
    },
    "layer": [
      {"data": {"name": "dMain"}, "mark": {"type": "line", "strokeWidth": 1, "clip": true},
       "encoding": {
        "x": {"field": "T", "type": "quantitative", "scale": {"domain": [25, 40], "nice": false, "zero": false}, "axis": {"orient": "bottom", "values": [26,27,28,29,30,31,32,33,34,35,36,37,38,39], "labelExpr": "datum.value % 2 == 0 ? datum.label : ''", "format": "d", "title": null}},
        "y": {"field": "v", "type": "quantitative", "scale": {"domain": [0, 0.18], "nice": false, "zero": false}, "axis": {"orient": "left", "values": [0,0.02,0.04,0.06,0.08,0.1,0.12,0.14,0.16], "labelExpr": "round(datum.value*100) % 4 == 0 ? datum.label : ''", "format": ".2f", "title": null}}
       }},
      {"data": {"name": "dArrow"}, "mark": {"type": "point", "opacity": 0},
       "encoding": {
        "x": {"field": "T", "type": "quantitative", "scale": {"domain": [25, 40], "nice": false, "zero": false}, "axis": {"orient": "top", "values": [26,27,28,29,30,31,32,33,34,35,36,37,38,39], "labels": false, "title": null}},
        "y": {"field": "y1", "type": "quantitative", "scale": {"domain": [0, 0.18], "nice": false, "zero": false}, "axis": {"orient": "right", "values": [0,0.02,0.04,0.06,0.08,0.1,0.12,0.14,0.16], "labels": false, "title": null}}
       }},
      {"data": {"name": "dArrow"}, "mark": {"type": "rule", "strokeWidth": 0.9},
       "encoding": {"y": {"field": "y1", "type": "quantitative", "scale": {"domain": [0, 0.18], "nice": false, "zero": false}, "axis": null}, "y2": {"field": "y2"}}},
      {"data": {"name": "dArrow"}, "mark": {"type": "point", "shape": "triangle-down", "filled": true, "size": 25, "opacity": 1},
       "encoding": {"y": {"field": "y2", "type": "quantitative", "scale": {"domain": [0, 0.18], "nice": false, "zero": false}, "axis": null}}},
      {"data": {"name": "dText"}, "mark": {"type": "text", "angle": 270, "align": "left", "baseline": "middle", "fontSize": 10, "fontStyle": "italic", "text": "T"}},
      {"data": {"name": "dText"}, "mark": {"type": "text", "angle": 270, "align": "left", "baseline": "middle", "fontSize": 7, "dx": 6.3, "dy": 3}, "encoding": {"text": {"field": "sub"}}},
      {"data": {"name": "dText"}, "mark": {"type": "text", "angle": 270, "align": "left", "baseline": "middle", "fontSize": 10, "dx": 12.6}, "encoding": {"text": {"field": "val"}}}
    ],
    "resolve": {"axis": {"x": "independent", "y": "independent"}}
   },
   {
    "encoding": {
      "x": {"field": "T", "type": "quantitative", "scale": {"domain": [25, 45], "range": [36, 172], "nice": false, "zero": false}, "axis": null},
      "y": {"field": "r", "type": "quantitative", "scale": {"domain": [-0.002, 0.172], "range": [110, 0], "nice": false, "zero": false}, "axis": null}
    },
    "layer": [
      {"data": {"name": "dIns"}, "mark": {"type": "line", "strokeWidth": 1, "interpolate": "monotone"},
       "encoding": {
        "x": {"field": "T", "type": "quantitative", "scale": {"domain": [25, 45], "range": [36, 172], "nice": false, "zero": false}, "axis": {"orient": "bottom", "offset": -51, "values": [27.5,30,32.5,35,37.5,40,42.5], "labelExpr": "datum.value % 5 == 0 ? datum.label : ''", "format": "d", "title": "T (K)"}},
        "y": {"field": "r", "type": "quantitative", "scale": {"domain": [-0.002, 0.172], "range": [110, 0], "nice": false, "zero": false}, "axis": {"orient": "left", "offset": -36, "values": [0,0.025,0.05,0.075,0.1,0.125,0.15], "labelExpr": "round(datum.value*1000) % 50 == 0 ? datum.label : ''", "format": ".2f", "title": "ρ (mΩ cm)"}},
        "color": {"field": "iso", "type": "nominal", "scale": {"domain": ["56", "54"], "range": ["#000000", "#e3201b"]}, "legend": null}
       }},
      {"data": {"name": "dLab"}, "mark": {"type": "text", "align": "left", "baseline": "middle", "fontSize": 9.5},
       "encoding": {
        "x": {"field": "T", "type": "quantitative", "scale": {"domain": [25, 45], "range": [36, 172], "nice": false, "zero": false}, "axis": {"orient": "top", "values": [27.5,30,32.5,35,37.5,40,42.5], "labels": false, "title": null}},
        "y": {"field": "r", "type": "quantitative", "scale": {"domain": [-0.002, 0.172], "range": [110, 0], "nice": false, "zero": false}, "axis": {"orient": "right", "offset": -60, "values": [0,0.025,0.05,0.075,0.1,0.125,0.15], "labels": false, "title": null}},
        "text": {"field": "txt"},
        "color": {"field": "iso", "type": "nominal", "scale": {"domain": ["56", "54"], "range": ["#000000", "#e3201b"]}, "legend": null}
       }},
      {"data": {"name": "dX"}, "mark": {"type": "text", "align": "left", "baseline": "middle", "fontSize": 9.5, "fontStyle": "italic", "text": "x", "color": "black"}},
      {"data": {"name": "dX"}, "mark": {"type": "text", "align": "left", "baseline": "middle", "fontSize": 9.5, "dx": 7.5, "color": "black"}, "encoding": {"text": {"field": "txt"}}}
    ],
    "resolve": {"axis": {"x": "independent", "y": "independent"}}
   }
  ],
  "resolve": {"scale": {"x": "independent", "y": "independent"}, "axis": {"x": "independent", "y": "independent"}}
 }
]
}
